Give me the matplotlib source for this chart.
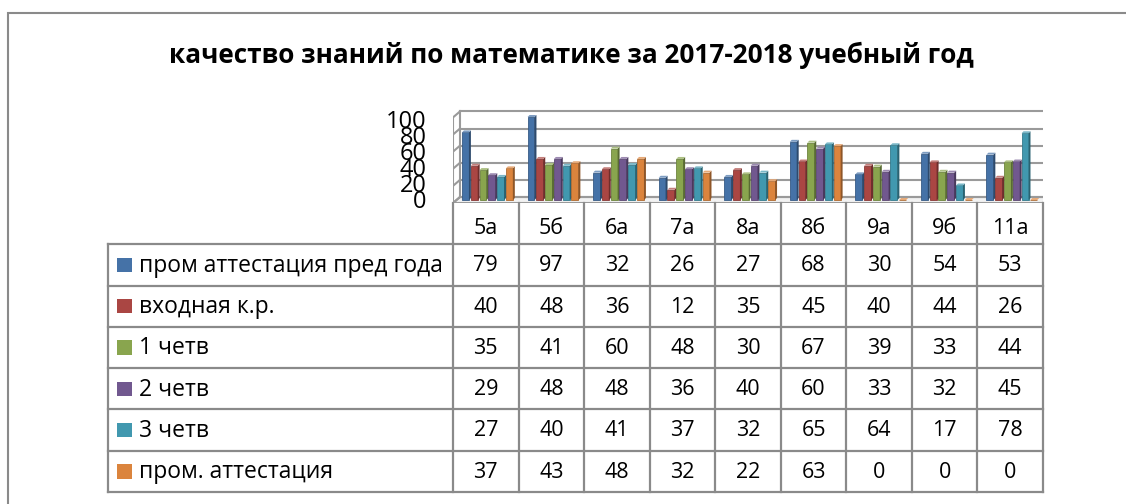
import matplotlib
matplotlib.use("Agg")
import matplotlib.pyplot as plt
import matplotlib.colors as mcolors
from matplotlib.patches import Polygon, Rectangle
import numpy as np

plt.rcParams['font.family'] = ['Open Sans', 'DejaVu Sans']

classes = ["5а", "5б", "6а", "7а", "8а", "8б", "9а", "9б", "11а"]
series_names = ["пром аттестация пред года", "входная к.р.", "1 четв",
                "2 четв", "3 четв", "пром. аттестация"]
prom_prev = [79, 97, 32, 26, 27, 68, 30, 54, 53]
vhod_kr = [40, 48, 36, 12, 35, 45, 40, 44, 26]
chetv1 = [35, 41, 60, 48, 30, 67, 39, 33, 44]
chetv2 = [29, 48, 48, 36, 40, 60, 33, 32, 45]
chetv3 = [27, 40, 41, 37, 32, 65, 64, 17, 78]
prom_att = [37, 43, 48, 32, 22, 63, 0, 0, 0]
series = [prom_prev, vhod_kr, chetv1, chetv2, chetv3, prom_att]
colors = ['#4572A7', '#AA4643', '#89A54E', '#71588F', '#4198AF', '#DB843D']
yticks = [0, 20, 40, 60, 80, 100]
title = "качество знаний по математике за 2017-2018 учебный год"

W, H = 1126, 504
GRID = '#9a9a9a'


def box(x0, y0, x1, y1):
    # pixel box (top-left origin) -> figure fraction
    return [x0 / W, 1 - y1 / H, (x1 - x0) / W, (y1 - y0) / H]


def darker(c, f):
    return tuple(np.array(mcolors.to_rgb(c)) * f)


def lighter(c, f):
    rgb = np.array(mcolors.to_rgb(c))
    return tuple(rgb + (1 - rgb) * f)


fig = plt.figure(figsize=(W / 100, H / 100), dpi=100)

# outer chart border (only left/top visible)
fig.add_artist(Rectangle((8 / W, -0.1), 1.2, 1 - 13 / H + 0.1, transform=fig.transFigure,
                         fill=False, edgecolor='#8a8a8a', linewidth=1.5))

fig.text(571 / W, 1 - 55 / H, title, ha='center', va='center',
         fontsize=18.8, fontweight='bold')

# ---- 3D-ish column chart ----
ax = fig.add_axes(box(453, 108, 1043, 203))
ax.set_xlim(0, 9)
ax.set_ylim(-3.5, 107.5)
ax.axis('off')

n = len(classes)
dx, dy = 0.107, 3.5
# floor
ax.add_patch(Polygon([(0, -dy), (n, -dy), (n + dx, dy), (dx, dy)], closed=True,
                     facecolor='#f2f2f2', edgecolor=GRID, linewidth=1.5, zorder=1))
# walls / gridlines
for t in yticks:
    ax.plot([dx, n + dx], [t + dy, t + dy], color=GRID, lw=1.5, zorder=1)
    ax.plot([0, dx], [t - dy, t + dy], color=GRID, lw=1.5, zorder=1)
ax.plot([0, 0], [-dy, yticks[-1] - dy], color=GRID, lw=1.5, zorder=1)
ax.plot([dx, dx], [dy, yticks[-1] + dy], color=GRID, lw=1.5, zorder=1)
for t in yticks:
    ax.text(-0.4, -2.3 + 0.935 * t, str(t), ha='right', va='center', fontsize=17)

bw, step, sdx, sdy = 0.106, 0.134, 0.03, 2.3
for i in range(n):
    for j, vals in enumerate(series):
        v = vals[i]
        x0 = i + 0.137 + j * step
        c = colors[j]
        ax.bar(x0, v, width=bw, align='edge', color=c,
               edgecolor=darker(c, 0.8), linewidth=0.6, zorder=3)
        ax.add_patch(Polygon([(x0 + bw, 0), (x0 + bw + sdx, sdy), (x0 + bw + sdx, v + sdy),
                              (x0 + bw, v)], closed=True, facecolor=darker(c, 0.65),
                             linewidth=0, zorder=3))
        ax.add_patch(Polygon([(x0, v), (x0 + bw, v), (x0 + bw + sdx, v + sdy),
                              (x0 + sdx, v + sdy)], closed=True, facecolor=lighter(c, 0.3),
                             linewidth=0, zorder=3))

# ---- data table ----
colw = (1043 - 453) / n
tax = fig.add_axes(box(108, 203, 1043, 492))
tax.set_xlim(-(453 - 108) / colw, n)
tax.set_ylim(7, 0)
tax.axis('off')
left = -(453 - 108) / colw
for r in range(1, 8):
    tax.plot([left, n], [r, r], color='#8a8a8a', lw=1.6, clip_on=False)
tax.plot([left, left], [1, 7], color='#8a8a8a', lw=1.6, clip_on=False)
for k in range(n + 1):
    tax.plot([k, k], [0, 7], color='#8a8a8a', lw=1.6, clip_on=False)

for i, name in enumerate(classes):
    tax.text(i + 0.5, 0.62, name, ha='center', va='center', fontsize=15.5)
for j, vals in enumerate(series):
    r = j + 1
    tax.add_patch(Rectangle((left + 9 / colw, r + 0.5 - 0.175), 15 / colw, 0.35,
                            facecolor=colors[j], edgecolor='none'))
    tax.text(left + 31 / colw, r + 0.52, series_names[j], ha='left', va='center', fontsize=16.5)
    for i, v in enumerate(vals):
        tax.text(i + 0.5, r + 0.52, str(v), ha='center', va='center', fontsize=15.5)

fig.savefig('out.png', dpi=100)
